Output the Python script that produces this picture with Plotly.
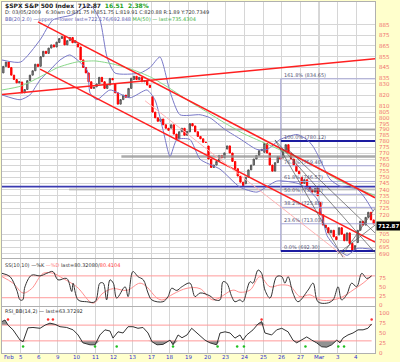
import plotly.graph_objects as go
import numpy as np

# ---------------- data ----------------
day_labels = ["Feb", "5", "6", "9", "10", "11", "12", "13", "17", "18", "19", "20",
              "23", "24", "25", "26", "27", "Mar", "3", "4"]
day_open = [840, 831.8, 846.1, 868.2, 866.9, 827.4, 829.9, 834.0, 818.6, 791.1,
            787.9, 775.9, 773.3, 744.7, 770.6, 765.8, 749.9, 729.6, 704.4, 698.6]
bar_close = [
    846, 850, 845, 838, 834, 831, 832.2,
    822, 825, 833, 838, 842, 848, 845.9,
    855, 860, 858, 863, 866, 864, 868.6,
    872, 874, 866, 870, 873, 868, 869.9,
    864, 852, 845, 840, 832, 826, 827.2,
    830, 836, 832, 826, 829, 835, 833.7,
    822, 812, 816, 820, 818, 826, 835.2,
    837, 834, 836, 832, 833, 829, 826.8,
    805, 800, 797, 799, 794, 791, 789.2,
    794, 786, 782, 788, 791, 785, 788.4,
    795, 793, 788, 784, 782, 779, 778.9,
    765, 758, 760, 763, 768, 766, 770.1,
    776, 770, 763, 757, 751, 746, 743.3,
    750, 756, 760, 765, 768, 772, 773.1,
    778, 770, 760, 755, 762, 767, 764.9,
    772, 777, 770, 765, 760, 755, 752.8,
    745, 748, 742, 740, 738, 741, 735.1,
    720, 712, 710, 706, 708, 703, 700.8,
    710, 705, 700, 706, 698, 693, 696.3,
    708, 715, 712, 718, 722, 716, 712.87,
]
BARS_PER_DAY = 7

bb_day = [0.0, 1.0, 2.04, 2.73, 3.75, 4.72, 5.25, 5.63, 6.06, 7.40, 7.94, 8.47,
          9.01, 9.54, 10.62, 11.15, 11.96, 12.76, 13.67, 14.21, 14.91, 15.82, 16.35,
          16.68, 17.05, 17.58, 18.12, 19.04, 19.47, 19.89]
bb_upper = [851.9, 850.0, 870.7, 889.8, 894.6, 904.4, 889.8, 854.7, 839.9, 839.9,
            845.0, 854.7, 823.0, 802.7, 802.7, 800.1, 789.9, 782.0, 773.0, 773.0,
            781.4, 785.6, 781.4, 775.5, 764.8, 748.5, 742.8, 740.4, 733.0, 723.0]
bb_lower_day = [0.0, 0.97, 1.50, 2.04, 2.57, 3.11, 3.64, 4.56, 4.72, 5.09, 5.79,
                6.86, 7.77, 8.20, 8.63, 9.01, 9.38, 10.08, 10.62, 11.69, 12.76,
                13.67, 14.74, 15.98, 16.89, 17.43, 17.96, 18.50, 19.04, 19.89]
bb_lower = [820.2, 815.9, 820.2, 833.6, 842.6, 851.9, 856.6, 842.6, 822.0, 815.9,
            824.6, 817.6, 824.6, 815.9, 789.9, 767.2, 781.4, 781.4, 764.8, 756.6,
            742.0, 738.0, 746.9, 744.4, 732.5, 703.9, 694.2, 689.0, 694.2, 693.5]
ma_day = list(range(21))
ma50 = [824.6, 828.0, 836.0, 845.0, 850.0, 851.0, 848.0, 843.0, 836.0, 826.0,
        815.0, 805.0, 795.0, 786.0, 779.0, 772.0, 765.0, 757.0, 748.0, 741.0, 735.4]

k_day = [0.0, 0.43, 0.79, 0.97, 1.11, 1.23, 1.59, 2.04, 2.40, 2.73, 3.00, 3.47, 3.74,
         3.81, 4.08, 4.54, 4.99, 5.25, 5.43, 5.61, 5.79, 5.97, 6.15, 6.60, 6.76, 7.02,
         7.29, 7.58, 7.83, 8.03, 8.63, 8.90, 9.10, 9.37, 9.64, 10.08, 10.35, 10.62,
         11.15, 11.42, 11.69, 11.85, 12.05, 12.32, 12.49, 12.76, 12.92, 13.30, 13.46,
         13.73, 13.92, 14.10, 14.37, 14.73, 15.00, 15.17, 15.34, 15.60, 15.87, 16.41,
         16.68, 16.94, 17.41, 17.75, 18.02, 18.21, 18.48, 18.75, 19.02, 19.29, 19.56,
         19.82]
k_val = [87, 78, 41, 14, 14, 50, 82, 80, 87, 92, 69, 73, 37, 60, 14, 9, 9, 60, 60, 14,
         69, 60, 19, 50, 23, 92, 78, 69, 33, 14, 9, 23, 46, 40, 50, 60, 23, 33, 25, 14,
         14, 64, 60, 23, 9, 14, 9, 64, 60, 96, 87, 41, 19, 78, 78, 60, 78, 33, 9, 41, 60,
         9, 5, 14, 50, 14, 28, 60, 50, 87, 73, 80]
d_day = [0.0, 0.59, 1.13, 1.59, 2.21, 2.75, 3.27, 4.01, 4.88, 5.42, 5.97, 6.69, 7.40,
         7.76, 8.31, 8.63, 9.17, 9.92, 10.62, 11.31, 12.39, 12.76, 13.30, 13.83, 14.37,
         14.91, 15.44, 15.98, 16.51, 17.05, 17.75, 18.28, 18.82, 19.36, 19.82]
d_val = [78, 60, 33, 45, 87, 87, 73, 50, 5, 33, 45, 40, 60, 50, 19, 14, 30, 46, 45, 14,
         41, 35, 41, 78, 50, 55, 52, 23, 28, 14, 14, 23, 41, 60, 80]

rsi_day = [0.0, 0.16, 0.32, 0.59, 0.97, 1.13, 1.39, 1.66, 2.04, 2.31, 2.57, 2.84, 3.11,
           3.47, 3.81, 4.08, 4.34, 4.72, 4.99, 5.25, 5.52, 5.79, 5.95, 6.22, 6.49, 6.76,
           7.02, 7.29, 7.56, 7.83, 8.04, 8.31, 8.63, 9.01, 9.17, 9.44, 9.65, 9.92, 10.17,
           10.46, 10.62, 10.88, 11.15, 11.51, 11.69, 11.96, 12.23, 12.49, 12.76, 12.92,
           13.12, 13.46, 13.73, 13.92, 14.10, 14.46, 14.73, 15.00, 15.34, 15.60, 15.80,
           16.07, 16.34, 16.61, 16.87, 17.14, 17.41, 17.68, 17.95, 18.12, 18.28, 18.55,
           18.82, 19.09, 19.36, 19.62, 19.82]
rsi_val = [79, 83, 70, 58, 32, 28, 63, 64, 62, 70, 75, 72, 66, 64, 58, 45, 25, 20, 20,
           45, 58, 55, 37, 53, 50, 66, 66, 62, 64, 50, 28, 20, 21, 32, 20, 45, 38, 45,
           62, 50, 45, 32, 25, 20, 50, 53, 50, 37, 45, 32, 45, 58, 73, 79, 50, 45, 58,
           62, 53, 32, 25, 32, 40, 32, 25, 15, 14, 20, 32, 25, 37, 45, 50, 58, 58, 62, 73]
rsi_hi_day = [0.32, 2.47, 2.73, 13.92, 19.82]
rsi_lo_day = [1.13, 4.99, 6.15, 9.17, 11.56, 12.61, 12.97, 16.27, 18.03, 18.34]

fib_pct = ["161.8%", "100.0%", "76.4%", "61.8%", "50.0%", "38.2%", "23.6%", "0.0%"]
fib_level = [834.65, 780.12, 759.40, 746.57, 736.21, 725.85, 713.03, 692.30]

price_ticks = [885, 875, 865, 855, 845, 835, 830, 820, 810, 805, 800, 795, 790, 785,
               780, 775, 770, 765, 760, 755, 750, 745, 740, 735, 730, 725, 720, 705,
               700, 695, 690]
osc_ticks = [0, 25, 50, 75]
rsi_ticks = [0, 25, 50, 75, 100]
last_close = 712.87

# ---------------- figure ----------------
fig = go.Figure()

X0, X1 = 2 / 400, 375 / 400
def py(p):  # pixel row -> paper y
    return 1 - p / 362

# candles
bx, bo, bc = [], [], []
for i in range(len(day_open)):
    for j in range(BARS_PER_DAY):
        k = i * BARS_PER_DAY + j
        bx.append(i + (j + 0.5) / BARS_PER_DAY)
        bo.append(day_open[i] if j == 0 else bar_close[k - 1])
        bc.append(bar_close[k])
bh = [max(o, c) for o, c in zip(bo, bc)]
bl = [min(o, c) for o, c in zip(bo, bc)]

def hline(x_a, x_b, level, color, width, dash=None):
    fig.add_trace(go.Scatter(x=[x_a, x_b], y=[level, level], mode="lines",
                             line=dict(color=color, width=width, dash=dash),
                             hoverinfo="skip", showlegend=False))

hline(6.4, 20, 767.2, "rgba(150,150,150,0.8)", 2.5)
hline(10.6, 20, 789.9, "rgba(150,150,150,0.8)", 2)
hline(3.6, 20, 740.0, "rgba(170,170,170,0.6)", 2)
hline(0, 20, 742.4, "#3a3ab0", 1.6)

# fib levels
fib_x0 = 14.95
fig.add_trace(go.Scatter(x=[fib_x0, fib_x0], y=[fib_level[0], fib_level[-1]], mode="lines",
                         line=dict(color="#9c9cd0", width=1), hoverinfo="skip", showlegend=False))
for pct, lvl in zip(fib_pct, fib_level):
    strong = pct in ("100.0%", "0.0%")
    hline(fib_x0, 20, lvl, "#1c1ca0" if strong else "#a8a8d8", 2 if strong else 1)
    fig.add_annotation(x=fib_x0 + 0.05, y=np.log10(lvl), xref="x", yref="y",
                       text=f"{pct} ({lvl:.2f})", showarrow=False, xanchor="left",
                       yanchor="bottom", yshift=-1,
                       font=dict(size=5, color="#555577", family="DejaVu Sans"))

# bollinger / ma
sm = dict(width=1, shape="spline", smoothing=0.6)
fig.add_trace(go.Scatter(x=bb_day, y=bb_upper, mode="lines", line=dict(color="#7878c8", **sm),
                         hoverinfo="skip", showlegend=False))
fig.add_trace(go.Scatter(x=bb_lower_day, y=bb_lower, mode="lines", line=dict(color="#7878c8", **sm),
                         hoverinfo="skip", showlegend=False))
fig.add_trace(go.Scatter(x=ma_day, y=ma50, mode="lines", line=dict(color="#88d888", **sm),
                         hoverinfo="skip", showlegend=False))

# trend lines (endpoints in day / price)
trend = [
    ([1.93, 20.0], [887.9, 733.5], "#ff2020", 1.5),
    ([2.04, 20.0], [843.5, 699.0], "#ff2020", 1.5),
    ([0.0, 20.0], [820.5, 853.0], "#ff2020", 1.5),
    ([7.67, 18.4], [815.0, 687.5], "#ffb4b4", 1),
    ([14.64, 18.28], [781.0, 687.5], "#555555", 0.7),
    ([14.64, 20.0], [781.0, 691.0], "#555555", 0.7),
    ([15.2, 20.0], [775.0, 706.0], "#555555", 0.7),
    ([18.28, 20.0], [690.0, 725.0], "#555555", 0.7),
    ([18.0, 20.0], [690.0, 712.0], "#555555", 0.7),
]
for tx, ty, col, w in trend:
    fig.add_trace(go.Scatter(x=tx, y=ty, mode="lines", line=dict(color=col, width=w),
                             hoverinfo="skip", showlegend=False))

fig.add_trace(go.Candlestick(
    x=bx, open=bo, high=bh, low=bl, close=bc, whiskerwidth=0,
    increasing=dict(line=dict(color="#555555", width=1), fillcolor="#9a9a9a"),
    decreasing=dict(line=dict(color="#ff0000", width=1), fillcolor="#ff0000"),
    hoverinfo="skip", showlegend=False))

# stochastic
for lv in (80, 20):
    fig.add_trace(go.Scatter(x=[0, 20], y=[lv, lv], xaxis="x2", yaxis="y2", mode="lines",
                             line=dict(color="#ff9a9a", width=1), hoverinfo="skip", showlegend=False))
fig.add_trace(go.Scatter(x=d_day, y=d_val, xaxis="x2", yaxis="y2", mode="lines",
                         line=dict(color="#ff9090", width=1, shape="spline"), hoverinfo="skip", showlegend=False))
fig.add_trace(go.Scatter(x=k_day, y=k_val, xaxis="x2", yaxis="y2", mode="lines",
                         line=dict(color="#333333", width=1, shape="spline"), hoverinfo="skip", showlegend=False))

# RSI with band fills
rsi_lo = [min(v, 30) for v in rsi_val]
rsi_hi = [max(v, 70) for v in rsi_val]
fig.add_trace(go.Scatter(x=rsi_day, y=[30] * len(rsi_day), xaxis="x3", yaxis="y3", mode="lines",
                         line=dict(color="#ff9a9a", width=1), hoverinfo="skip", showlegend=False))
fig.add_trace(go.Scatter(x=rsi_day, y=rsi_lo, xaxis="x3", yaxis="y3", mode="lines", fill="tonexty",
                         fillcolor="rgba(110,110,110,0.75)", line=dict(width=0), hoverinfo="skip", showlegend=False))
fig.add_trace(go.Scatter(x=rsi_day, y=[70] * len(rsi_day), xaxis="x3", yaxis="y3", mode="lines",
                         line=dict(color="#ff9a9a", width=1), hoverinfo="skip", showlegend=False))
fig.add_trace(go.Scatter(x=rsi_day, y=rsi_hi, xaxis="x3", yaxis="y3", mode="lines", fill="tonexty",
                         fillcolor="rgba(110,110,110,0.75)", line=dict(width=0), hoverinfo="skip", showlegend=False))
fig.add_trace(go.Scatter(x=rsi_day, y=rsi_val, xaxis="x3", yaxis="y3", mode="lines",
                         line=dict(color="#333333", width=1), hoverinfo="skip", showlegend=False))
fig.add_trace(go.Scatter(x=rsi_hi_day, y=[84] * len(rsi_hi_day), xaxis="x3", yaxis="y3", mode="markers",
                         marker=dict(color="#ff3030", size=2.5), hoverinfo="skip", showlegend=False))
fig.add_trace(go.Scatter(x=rsi_lo_day, y=[16] * len(rsi_lo_day), xaxis="x3", yaxis="y3", mode="markers",
                         marker=dict(color="#20c020", size=2.5), hoverinfo="skip", showlegend=False))

# ---------------- axes ----------------
grid = "#d6d6d6"
xcommon = dict(range=[0, 20], domain=[X0, X1], tickvals=list(range(21)), showticklabels=False,
               showgrid=True, gridcolor=grid, gridwidth=1, zeroline=False, showline=True,
               linecolor="#b0b0b0", mirror=True, ticks="", fixedrange=True)
main_dom = [py(258), py(2)]
lo, hi = 687.0, 907.3
fig.update_layout(
    width=400, height=362, margin=dict(l=0, r=0, t=0, b=0), autosize=False,
    paper_bgcolor="#ffffcc", plot_bgcolor="#ffffff",
    xaxis=dict(**xcommon, anchor="y", rangeslider=dict(visible=False)),
    xaxis2=dict(**xcommon, anchor="y2", matches="x"),
    xaxis3=dict(**xcommon, anchor="y3", matches="x"),
    yaxis=dict(type="log", range=[np.log10(lo), np.log10(hi)], domain=main_dom, side="right",
               tickvals=price_ticks, showticklabels=False,
               showgrid=True, gridcolor=grid, zeroline=False, showline=True, linecolor="#b0b0b0",
               mirror=True, ticks="", anchor="x", fixedrange=True),
    yaxis2=dict(range=[-2.75, 126.4], domain=[py(306), py(259)], side="right",
                showticklabels=False, showgrid=False, zeroline=False,
                showline=True, linecolor="#b0b0b0", mirror=True, ticks="", anchor="x2", fixedrange=True),
    yaxis3=dict(range=[-0.8, 116], domain=[py(353), py(307)], side="right",
                showticklabels=False, showgrid=False, zeroline=False,
                showline=True, linecolor="#b0b0b0", mirror=True, ticks="", anchor="x3", fixedrange=True),
    showlegend=False,
)
fig.add_shape(type="line", xref="x", yref="paper", x0=17, x1=17, y0=py(353), y1=py(2),
              line=dict(color="#a8a8a8", width=1), layer="below")

f = "DejaVu Sans"
ylab = dict(size=5.5, color="#f07070", family=f)
for t in price_ticks:
    fig.add_annotation(x=377 / 400, y=np.log10(t), xref="paper", yref="y", text=str(t),
                       showarrow=False, xanchor="left", yanchor="middle", font=ylab)
for t in osc_ticks:
    fig.add_annotation(x=377 / 400, y=t, xref="paper", yref="y2", text=str(t),
                       showarrow=False, xanchor="left", yanchor="middle", font=ylab)
for t in rsi_ticks:
    fig.add_annotation(x=377 / 400, y=t, xref="paper", yref="y3", text=str(t),
                       showarrow=False, xanchor="left", yanchor="middle", font=ylab)

for i, lab in enumerate(day_labels):
    fig.add_annotation(x=i, y=py(356.5), xref="x3", yref="paper", text=lab, showarrow=False,
                       xanchor="left" if i == 0 else "center", yanchor="middle",
                       font=dict(size=5.5, color="#3030d0", family=f))

fig.add_annotation(x=3 / 400, y=py(5), xref="paper", yref="paper", xanchor="left", yanchor="middle",
                   showarrow=False, font=dict(size=6, family=f, color="#222222"),
                   text="<b>$SPX S&P 500 Index</b>  <b>712.87</b>  <span style='color:#20a020'><b>16.51  2.38%</b></span>")
fig.add_annotation(x=3 / 400, y=py(12.5), xref="paper", yref="paper", xanchor="left", yanchor="middle",
                   showarrow=False, font=dict(size=5, family=f, color="#333333"),
                   text="D: 03/05/2009   6:30am O:831.75 H:851.75 L:819.91 C:820.88 R:1.89 Y:720.7349")
fig.add_annotation(x=3 / 400, y=py(20), xref="paper", yref="paper", xanchor="left", yanchor="middle",
                   showarrow=False, font=dict(size=5, family=f, color="#6060b0"),
                   text="BB(20,2.0) —upper —lower last=722.176/692.848 <span style='color:#40b040'>MA(50) — last=735.4304</span>")
fig.add_annotation(x=3 / 400, y=py(265), xref="paper", yref="paper", xanchor="left", yanchor="middle",
                   showarrow=False, font=dict(size=5, family=f, color="#333333"),
                   text="SS(10,10) —%K <span style='color:#ff8080'>—%D</span> last=80.32080/<span style='color:#ff4040'>80.4104</span>")
fig.add_annotation(x=3 / 400, y=py(311), xref="paper", yref="paper", xanchor="left", yanchor="middle",
                   showarrow=False, font=dict(size=5, family=f, color="#333333"),
                   text="RSI_BB(14,2) — last=63.37292")
fig.add_annotation(x=375.5 / 400, y=py(226), xref="paper", yref="paper", xanchor="left", yanchor="middle",
                   showarrow=False, bgcolor="#000000", borderpad=1,
                   font=dict(size=5.5, family=f, color="#ffffff"), text="<b>%.2f</b>" % last_close)

fig.write_html("out.html", config={"displayModeBar": False, "staticPlot": True})
with open("out.html", encoding="utf-8") as fh:
    html = fh.read()
html = html.replace("<head>", "<head><style>html,body{margin:0;padding:0;overflow:hidden;}</style>", 1)
with open("out.html", "w", encoding="utf-8") as fh:
    fh.write(html)
